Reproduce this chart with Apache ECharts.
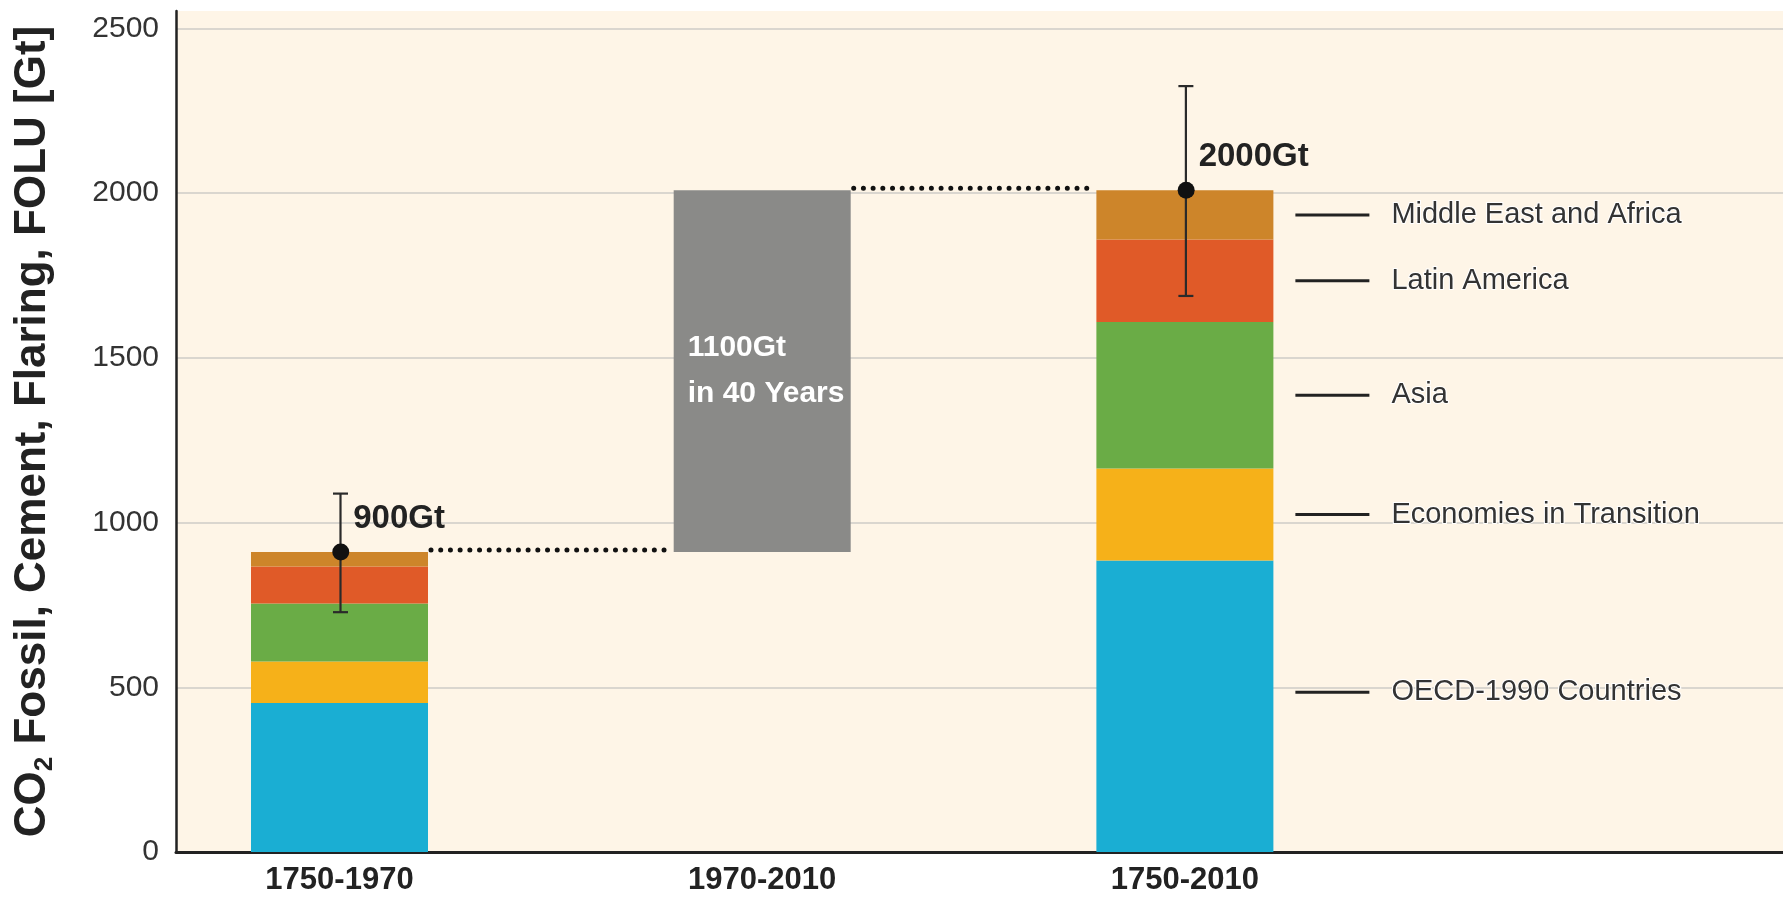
<!DOCTYPE html>
<html>
<head>
<meta charset="utf-8">
<script src="https://cdn.jsdelivr.net/npm/echarts@6/dist/echarts.min.js"></script>
<style>
  html, body { margin: 0; padding: 0; background: #fff; }
  #co2_bar { width: 1783px; height: 909px; }
</style>
</head>
<body>
<div id="co2_bar"></div>
<script type="text/javascript">
	// periods on the x axis (positions 1, 2, 3)
	var periods = [ '1750-1970', '1970-2010', '1750-2010' ];
	var regions = [ 'OECD-1990 Countries', 'Economies in Transition', 'Asia', 'Latin America', 'Middle East and Africa' ];
	var regionColors = [ '#1AAED3', '#F6B119', '#6AAC46', '#E05A28', '#CD852A' ];
	// cumulative emissions per region [1750-1970, 1750-2010], Gt
	var oecd = [ 452, 885 ];
	var eit = [ 126, 279 ];
	var asia = [ 176, 445 ];
	var latam = [ 113, 250 ];
	var mea = [ 44, 150 ];
	// uncertainty range of the totals
	var errLow = [ 728, 1688 ];
	var errHigh = [ 1088, 2325 ];
	var totalLabels = [ '900Gt', '2000Gt' ];
	var growthLabel = '1100Gt\nin 40 Years';
	var yTicks = [ 0, 500, 1000, 1500, 2000, 2500 ];

	var regionData = [ oecd, eit, asia, latam, mea ];
	var stackPos = [ 1, 3 ]; // x position of the two stacked bars

	var FONT = 'Liberation Sans';
	var BAR_W = 177;
	var cream = '#FEF5E7';

	// stack the regions by hand: [x, from, to]
	var cum = [ 0, 0 ];
	var stacked = regionData.map(function(arr) {
		return stackPos.map(function(x, k) {
			var row = [ x, cum[k], cum[k] + arr[k] ];
			cum[k] += arr[k];
			return row;
		});
	});
	var totals = cum.slice();

	function barRect(api, fill) {
		var x = api.value(0);
		var lo = api.coord([ x, api.value(1) ]);
		var hi = api.coord([ x, api.value(2) ]);
		return {
			type : 'rect',
			shape : { x : lo[0] - BAR_W / 2, y : hi[1], width : BAR_W, height : lo[1] - hi[1] },
			style : { fill : fill }
		};
	}

	var series = [];
	stacked.forEach(function(rows, i) {
		series.push({
			name : regions[i],
			type : 'custom',
			z : 2,
			encode : { x : 0, y : [ 1, 2 ] },
			renderItem : function(params, api) {
				var el = barRect(api, regionColors[i]);
				if (params.dataIndex === 1) {
					el.textContent = {
						type : 'text',
						style : {
							text : '{ln|}{t|' + regions[i] + '}',
							rich : {
								ln : { width : 74, height : 3, backgroundColor : '#222' },
								t : { fontFamily : FONT, fontSize : 29, color : '#222', padding : [ 0, 0, 0, 22 ] }
							}
						}
					};
					el.textConfig = { position : 'right', distance : 22, offset : i === 0 ? [ 0, -14 ] : [ 0, 0 ] };
				}
				return el;
			},
			data : rows
		});
	});

	// floating grey bar from one total to the next
	series.push({
		name : 'growth',
		type : 'custom',
		z : 2,
		encode : { x : 0, y : [ 1, 2 ] },
		renderItem : function(params, api) {
			var el = barRect(api, '#8A8A88');
			el.textContent = {
				type : 'text',
				style : {
					text : growthLabel,
					fill : '#fff',
					fontFamily : FONT,
					fontWeight : 'bold',
					fontSize : 30,
					lineHeight : 46,
					align : 'left'
				}
			};
			el.textConfig = { position : 'insideLeft', distance : 14 };
			return el;
		},
		data : [ [ 2, totals[0], totals[1] ] ]
	});

	// dotted connectors between bar tops
	series.push({
		name : 'connector',
		type : 'custom',
		z : 5,
		encode : { x : [ 0, 1 ], y : 2 },
		renderItem : function(params, api) {
			var a = api.coord([ api.value(0), api.value(2) ]);
			var b = api.coord([ api.value(1), api.value(2) ]);
			return {
				type : 'line',
				shape : { x1 : a[0] + BAR_W / 2 + 3, y1 : a[1] - 2, x2 : b[0] - BAR_W / 2 - 3, y2 : b[1] - 2 },
				style : { stroke : '#111', lineWidth : 5, lineCap : 'round', lineDash : [ 0.01, 9.7 ] }
			};
		},
		data : [ [ 1, 2, totals[0] ], [ 2, 3, totals[1] ] ]
	});

	// error bars
	series.push({
		name : 'range',
		type : 'custom',
		z : 6,
		encode : { x : 0, y : [ 1, 2 ] },
		renderItem : function(params, api) {
			var lo = api.coord([ api.value(0), api.value(1) ]);
			var hi = api.coord([ api.value(0), api.value(2) ]);
			var x = lo[0] + 1, cap = 7.5;
			var st = { stroke : '#2a2a2a', lineWidth : 2.2 };
			return {
				type : 'group',
				children : [
					{ type : 'line', shape : { x1 : x, y1 : lo[1], x2 : x, y2 : hi[1] }, style : st },
					{ type : 'line', shape : { x1 : x - cap, y1 : lo[1], x2 : x + cap, y2 : lo[1] }, style : st },
					{ type : 'line', shape : { x1 : x - cap, y1 : hi[1], x2 : x + cap, y2 : hi[1] }, style : st }
				]
			};
		},
		data : [ [ stackPos[0], errLow[0], errHigh[0] ], [ stackPos[1], errLow[1], errHigh[1] ] ]
	});

	// total dots with labels
	series.push({
		name : 'total',
		type : 'scatter',
		z : 7,
		symbolSize : 17,
		itemStyle : { color : '#111', opacity : 1 },
		label : {
			show : true,
			position : 'right',
			distance : 4,
			offset : [ 0, -33 ],
			formatter : function(p) {
				return totalLabels[p.dataIndex];
			},
			color : '#222',
			fontFamily : FONT,
			fontWeight : 'bold',
			fontSize : 33
		},
		data : [ [ stackPos[0] + 0.003, totals[0] ], [ stackPos[1] + 0.003, totals[1] ] ]
	});

	var option = {
		animation : false,
		backgroundColor : '#fff',
		textStyle : { fontFamily : FONT },
		grid : {
			left : 173,
			right : 0,
			top : 11,
			bottom : 57,
			show : true,
			backgroundColor : cream,
			borderWidth : 0
		},
		xAxis : {
			type : 'value',
			min : 0.6132,
			max : 4.415,
			splitLine : { show : false },
			axisTick : { show : false },
			axisLine : { show : true, lineStyle : { color : '#222', width : 3 } },
			axisLabel : {
				customValues : [ 1, 2, 3 ],
				formatter : function(v) {
					return periods[Math.round(v) - 1] || '';
				},
				margin : 13,
				color : '#222',
				fontFamily : FONT,
				fontWeight : 'bold',
				fontSize : 31
			}
		},
		yAxis : {
			type : 'value',
			min : yTicks[0],
			max : 2553,
			interval : 500,
			name : 'CO{sub|2} Fossil, Cement, Flaring, FOLU [Gt]',
			nameLocation : 'middle',
			nameGap : 118,
			nameTextStyle : {
				fontFamily : FONT,
				fontWeight : 'bold',
				fontSize : 44,
				color : '#222',
				lineHeight : 50,
				rich : {
					sub : { fontFamily : FONT, fontWeight : 'bold', fontSize : 26, color : '#222', verticalAlign : 'bottom', lineHeight : 30 }
				}
			},
			axisLine : { show : true, lineStyle : { color : '#222', width : 2.5 } },
			axisTick : { show : false },
			axisLabel : {
				showMaxLabel : false,
				margin : 17,
				color : '#333',
				fontFamily : FONT,
				fontSize : 30,
				formatter : function(v) {
					return String(v);
				}
			},
			splitLine : {
				show : true,
				showMaxLine : false,
				lineStyle : { color : '#DAD6CF', width : 2 }
			}
		},
		series : series
	};

	var chart = echarts.init(document.getElementById('co2_bar'));
	chart.setOption(option);
</script>
</body>
</html>
